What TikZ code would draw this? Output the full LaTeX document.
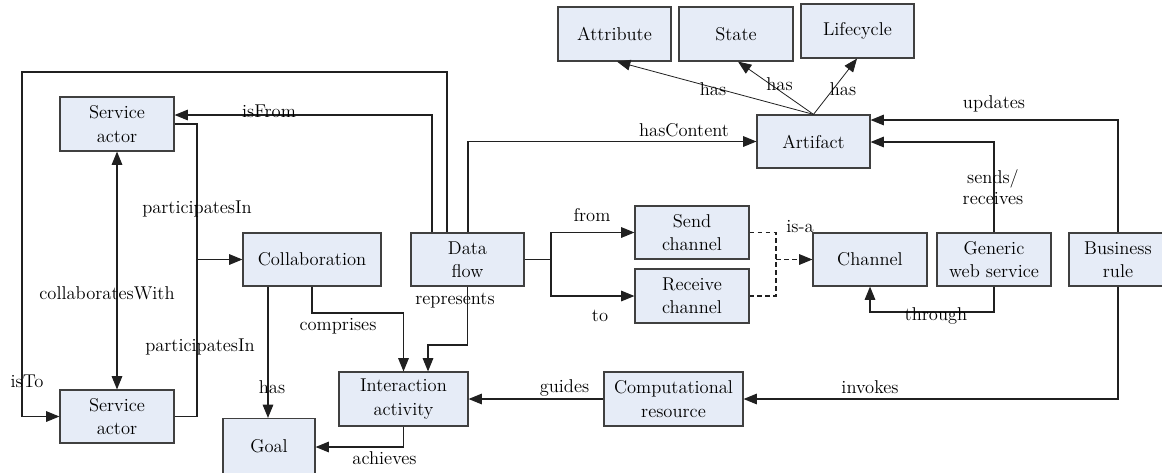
\documentclass[tikz,border=0pt]{standalone}
\usetikzlibrary{arrows.meta}
\definecolor{boxfill}{HTML}{E6ECF7}
\definecolor{boxline}{HTML}{404040}
\definecolor{edgeline}{HTML}{202020}
\tikzset{
  cbox/.style={draw=boxline, fill=boxfill, line width=0.9pt, inner sep=0pt, align=center,
    font=\rmfamily\fontsize{13.9}{17.5}\selectfont},
  lbl/.style={inner sep=0pt, align=center, font=\rmfamily\fontsize{13.9}{15.5}\selectfont},
  conn/.style={draw=edgeline, line width=0.8pt},
  arr/.style={conn, -{Triangle[length=10pt,width=8pt]}},
  darr/.style={conn, {Triangle[length=10pt,width=8pt]}-{Triangle[length=10pt,width=8pt]}},
  isa/.style={conn, dashed, dash pattern=on 3.5pt off 2.5pt},
}
\begin{document}
\begin{tikzpicture}[x=0.75pt,y=-0.75pt]
\useasboundingbox (0,0) rectangle (1162,472);
\clip (0,0) rectangle (1162,472);
\fill[white] (0,0) rectangle (1162,472);
% nodes
\node[cbox, minimum width=114*0.75pt, minimum height=54*0.75pt] (sa1) at (117,124) {Service\\actor};
\node[cbox, minimum width=114*0.75pt, minimum height=53*0.75pt] (sa2) at (117,416.5) {Service\\actor};
\node[cbox, minimum width=138*0.75pt, minimum height=53*0.75pt] (collab) at (312,259.5) {Collaboration};
\node[cbox, minimum width=113*0.75pt, minimum height=53*0.75pt] (df) at (467.5,259.5) {Data\\flow};
\node[cbox, minimum width=114*0.75pt, minimum height=53*0.75pt] (send) at (692,232.5) {Send\\channel};
\node[cbox, minimum width=114*0.75pt, minimum height=54*0.75pt] (recv) at (692,296) {Receive\\channel};
\node[cbox, minimum width=129*0.75pt, minimum height=54*0.75pt] (ia) at (403.5,399) {Interaction\\activity};
\node[cbox, minimum width=92*0.75pt, minimum height=56*0.75pt] (goal) at (269,446.5) {Goal};
\node[cbox, minimum width=139*0.75pt, minimum height=54*0.75pt] (comp) at (673.5,399) {Computational\\resource};
\node[cbox, minimum width=114*0.75pt, minimum height=53*0.75pt] (chan) at (870,259.5) {Channel};
\node[cbox, minimum width=114*0.75pt, minimum height=53*0.75pt] (gws) at (994,259.5) {Generic\\web service};
\node[cbox, minimum width=98*0.75pt, minimum height=53*0.75pt] (br) at (1118,259.5) {Business\\rule};
\node[cbox, minimum width=113*0.75pt, minimum height=53*0.75pt] (art) at (813.5,141.5) {Artifact};
\node[cbox, minimum width=113*0.75pt, minimum height=54*0.75pt] (attr) at (614.5,34) {Attribute};
\node[cbox, minimum width=114*0.75pt, minimum height=54*0.75pt] (state) at (736,34) {State};
\node[cbox, minimum width=113*0.75pt, minimum height=54*0.75pt] (life) at (857.5,31) {Lifecycle};
% helper coordinates
\coordinate (x22) at (22,0);
\coordinate (x197) at (197,0);
\coordinate (x268) at (268,0);
\coordinate (x428) at (428,0);
\coordinate (x432) at (432,0);
\coordinate (x447) at (447,0);
\coordinate (x468) at (468,0);
\coordinate (x551) at (551,0);
\coordinate (x776) at (776,0);
\coordinate (x617) at (617,0);
\coordinate (x738) at (738,0);
\coordinate (x857) at (857,0);
\coordinate (y72) at (0,72);
\coordinate (y115) at (0,115);
\coordinate (y120) at (0,120);
\coordinate (y142) at (0,142);
\coordinate (y312) at (0,312);
\coordinate (y313) at (0,313);
\coordinate (y345) at (0,345);
\coordinate (y447) at (0,447);
% data flow loops
\draw[arr] (df.north -| x432) |- (sa1.east |- y115);
\draw[arr] (df.north -| x447) -- (x447 |- y72) -- (x22 |- y72) |- (sa2.west);
\draw[arr] (df.north -| x468) |- (art.west);
% participatesIn
\draw[arr] (sa1.east) -| (x197 |- collab.west) -- (collab.west);
\draw[conn] (sa2.east) -| (x197 |- collab.west);
% collaboratesWith
\draw[darr] (sa2.north) -- (sa1.south);
% has goal
\draw[arr] (collab.south -| x268) -- (goal.north -| x268);
% comprises
\draw[arr] (collab.south) |- (ia.north |- y313) -- (ia.north);
% represents
\draw[arr] (df.south) |- (x428 |- y345) -- (ia.north -| x428);
% achieves
\draw[arr] (ia.south) |- (goal.east |- y447);
% guides
\draw[arr] (comp.west) -- (ia.east);
% invokes
\draw[arr] (br.south) |- (comp.east);
% updates
\draw[arr] (br.north) |- (art.east |- y120);
% sends/receives
\draw[arr] (gws.north) |- (art.east |- y142);
% through
\draw[arr] (gws.south) |- (chan.south |- y312) -- (chan.south);
% from / to
\draw[conn] (df.east) -- (x551 |- df.east);
\draw[arr] (x551 |- df.east) |- (send.west);
\draw[arr] (x551 |- df.east) |- (recv.west);
% is-a
\draw[isa] (send.east) -| (x776 |- recv.east) -- (recv.east);
\draw[isa, -{Triangle[length=10pt,width=8pt]}] (x776 |- chan.west) -- (chan.west);
% artifact has
\draw[conn, line width=0.6pt, -{Triangle[length=10pt,width=8pt]}] (art.north) -- (attr.south -| x617);
\draw[conn, line width=0.6pt, -{Triangle[length=10pt,width=8pt]}] (art.north) -- (state.south -| x738);
\draw[conn, line width=0.6pt, -{Triangle[length=10pt,width=8pt]}] (art.north) -- (life.south -| x857);
% labels
\node[lbl] (l1) at (269,111) {isFrom};
\node[lbl] (l2) at (27,381) {isTo};
\node[lbl] (l3) at (197,209) {participatesIn};
\node[lbl] (l4) at (200,347) {participatesIn};
\node[lbl] (l5) at (107,293) {collaboratesWith};
\node[lbl] (l6) at (272,387) {has};
\node[lbl] (l7) at (338,326) {comprises};
\node[lbl] (l8) at (455,301) {represents};
\node[lbl] (l9) at (384.5,458) {achieves};
\node[lbl] (l10) at (564.5,388) {guides};
\node[lbl] (l11) at (870,387) {invokes};
\node[lbl] (l12) at (994,104) {updates};
\node[lbl] (l13) at (993,187) {sends/\\receives};
\node[lbl] (l14) at (936,316) {through};
\node[lbl] (l15) at (592,215) {from};
\node[lbl] (l16) at (600,316) {to};
\node[lbl] (l17) at (800,227) {is-a};
\node[lbl] (l18) at (713,89) {has};
\node[lbl] (l19) at (779.5,84) {has};
\node[lbl] (l20) at (843,89) {has};
\node[lbl] (l21) at (684,130) {hasContent};
\end{tikzpicture}
\end{document}
